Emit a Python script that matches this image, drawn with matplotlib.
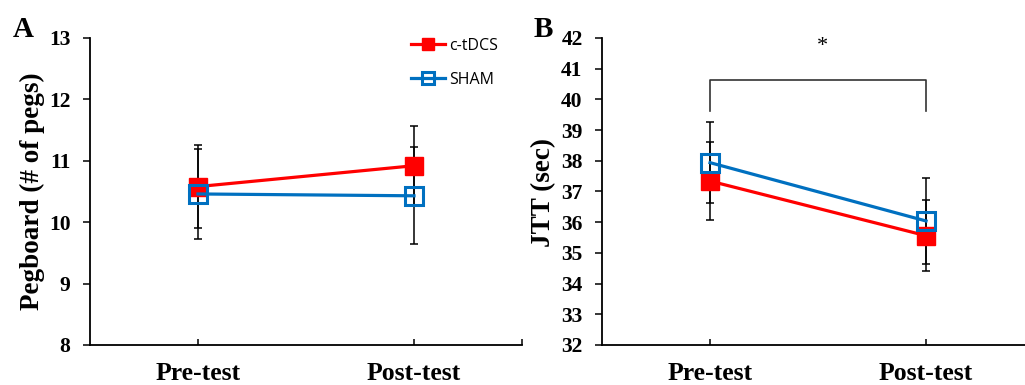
import matplotlib
matplotlib.use("Agg")
import matplotlib.pyplot as plt
import numpy as np

# ==== data ====
phase = ["Pre-test", "Post-test"]
groups = ["c-tDCS", "SHAM"]

peg_tdcs = [10.58, 10.92]
peg_tdcs_err = [0.67, 0.64]
peg_sham = [10.46, 10.43]
peg_sham_err = [0.73, 0.79]

jtt_tdcs = [37.34, 35.56]
jtt_tdcs_err = [1.26, 1.15]
jtt_sham = [37.94, 36.04]
jtt_sham_err = [1.33, 1.39]

sig_y = [40.63, 39.62]  # bracket top / bottom in JTT units

RED = "#FF0000"
BLUE = "#0070C0"

plt.rcParams["font.family"] = ["Liberation Serif", "DejaVu Serif"]
plt.rcParams["font.weight"] = "bold"

fig = plt.figure(figsize=(10.25, 3.85), dpi=100)
W, H = 1025, 385

axA = fig.add_axes([90 / W, 40 / H, 432 / W, 307 / H])
axB = fig.add_axes([602 / W, 40 / H, 423 / W, 307 / H])

x = np.arange(len(phase))


def draw(ax, tdcs, tdcs_err, sham, sham_err):
    ax.errorbar(x, tdcs, yerr=tdcs_err, fmt="none", ecolor="black",
                elinewidth=1.1, capsize=3, capthick=1.1, zorder=1)
    ax.errorbar(x, sham, yerr=sham_err, fmt="none", ecolor="black",
                elinewidth=1.1, capsize=3, capthick=1.1, zorder=1)
    ax.plot(x, tdcs, color=RED, lw=2.3, marker="s", markersize=13.5,
            markerfacecolor=RED, markeredgecolor=RED, label=groups[0], zorder=2)
    ax.plot(x, sham, color=BLUE, lw=2.3, marker="s", markersize=12.5,
            markerfacecolor="none", markeredgecolor=BLUE, markeredgewidth=2.2,
            label=groups[1], zorder=3)
    for s in ["top", "right"]:
        ax.spines[s].set_visible(False)
    for s in ["left", "bottom"]:
        ax.spines[s].set_linewidth(1.3)
    ax.set_xticks(x)
    ax.set_xticklabels(phase, fontsize=18.5, fontweight="bold")
    ax.set_xticks([1.5], minor=True)
    ax.tick_params(axis="x", which="both", direction="in", length=4, width=1.1, pad=12)
    ax.tick_params(axis="y", direction="out", length=5, width=1.1, pad=9,
                   labelsize=15.5)


draw(axA, peg_tdcs, peg_tdcs_err, peg_sham, peg_sham_err)
axA.set_xlim(-0.5, 1.5)
axA.set_ylim(8, 13)
axA.set_yticks(range(8, 14))

draw(axB, jtt_tdcs, jtt_tdcs_err, jtt_sham, jtt_sham_err)
axB.set_xlim(-0.5, 1.458)
axB.set_ylim(32, 42)
axB.set_yticks(range(32, 43))

# significance bracket
axB.plot([0, 0, 1, 1], [sig_y[1], sig_y[0], sig_y[0], sig_y[1]],
         color="#333333", lw=1.2, clip_on=False)
axB.text(0.52, 41.72, "*", ha="center", va="center", fontsize=16,
         fontweight="normal")

# legend
leg = axA.legend(loc="upper left", bbox_to_anchor=(411 / W, 1 - 37.5 / H),
                 bbox_transform=fig.transFigure, frameon=False,
                 prop={"family": "Open Sans", "size": 11.5, "weight": "normal"},
                 handlelength=2.1, handletextpad=0.3, labelspacing=1.15,
                 markerscale=0.65, borderpad=0, borderaxespad=0)

# axis titles and panel letters
fig.text(32 / W, 1 - 191.5 / H, "Pegboard (# of pegs)", rotation=90,
         ha="center", va="center", fontsize=19.5, fontweight="bold")
fig.text(544 / W, 1 - 192.5 / H, "JTT (sec)", rotation=90,
         ha="center", va="center", fontsize=19.5, fontweight="bold")
fig.text(13 / W, 1 - 37 / H, "A", fontsize=21, fontweight="bold", va="baseline")
fig.text(534 / W, 1 - 37 / H, "B", fontsize=21, fontweight="bold", va="baseline")

fig.savefig("out.png", dpi=100)
